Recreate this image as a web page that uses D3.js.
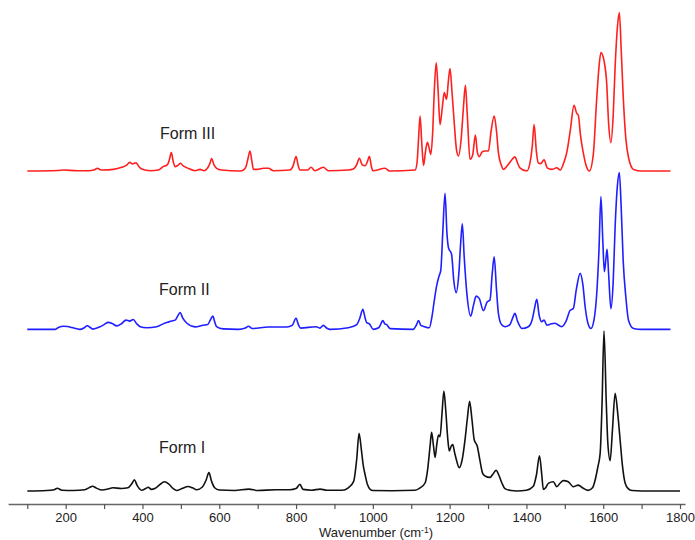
<!DOCTYPE html>
<html>
<head>
<meta charset="utf-8">
<script src="https://cdn.jsdelivr.net/npm/d3@7/dist/d3.min.js"></script>
<style>
  html, body { margin: 0; padding: 0; background: #fff; }
  svg { display: block; }
  text { font-family: "Liberation Sans", Arial, Helvetica, sans-serif; }
</style>
</head>
<body>
<svg id="chart" width="695" height="540"></svg>
<script>
// Raman spectra of three solid forms: [wavenumber (cm-1), relative intensity]
const formI = [
  [100,0],[150,0.3],[170,0.8],[178,1.7],[190,0.5],[220,0.3],[250,0.8],[262,2.2],[270,3],[280,1.8],
  [295,0.6],[310,1.2],[323,2],[345,1.6],[362,2],[372,4.5],[379,7],[386,3.5],[398,0.5],[408,1.5],
  [415,2.3],[423,1],[432,1.5],[445,4],[457,5.8],[468,4.5],[480,1.5],[489,0.3],[503,1.5],[519,2.8],
  [530,2],[541,0.8],[556,2.5],[566,7],[573,11.5],[580,6],[588,2],[600,0.6],[640,0.3],[677,1.2],
  [700,0.3],[747,0.8],[784,0.8],[800,1.5],[810,4.2],[818,1],[840,0.5],[863,1.2],[880,0.5],[920,0.5],
  [936,2],[950,6],[958,20],[964,36],[970,26],[975,16],[980,10],[986,4],[993,1],[1000,0.3],
  [1050,0.2],[1110,0.5],[1123,2],[1136,5],[1143,14],[1149,28],[1153,36.7],[1158,28],[1162,21],[1167,30],
  [1171,35],[1175,34],[1180,48],[1185,62.5],[1190,50],[1195,33],[1199,25],[1204,28],[1208,29],[1213,24],
  [1217,20],[1225,14.6],[1233,20],[1240,32],[1246,45],[1252,56],[1258,45],[1264,32],[1272,28],[1279,19],
  [1286,11],[1292,9.4],[1305,8.5],[1314,11],[1321,13],[1328,10],[1336,5],[1344,1.5],[1360,0.3],[1375,0],
  [1400,0.5],[1418,3],[1426,10],[1434,22],[1440,10],[1444,1],[1450,2],[1457,4.8],[1470,5.8],[1479,2.7],
  [1488,5],[1496,6.5],[1509,5.8],[1522,2.7],[1535,3.7],[1548,1.7],[1561,0.4],[1572,2],[1579,6.9],[1586,15],
  [1592,23.5],[1597,55],[1602,100],[1608,55],[1612,30],[1618,19],[1624,38],[1631,61],[1638,48],[1644,32],
  [1650,16],[1657,5],[1665,1.5],[1675,0.3],[1700,0],[1800,0]
];

const formII = [
  [100,0],[172,0],[181,1.2],[194,2],[205,1.8],[216,1.2],[237,0],[248,1],[256,2.3],[264,1.2],
  [270,0.2],[289,1.6],[300,3],[311,4.4],[322,3.5],[333,2.2],[345,3.5],[357,5.8],[367,5.2],[376,6.2],
  [385,3.5],[394,1.7],[411,1],[437,1.7],[459,4],[476,5.2],[486,6],[492,8.5],[498,10.6],[505,7],
  [515,4],[537,1.6],[558,2.6],[570,3],[577,6],[583,8.3],[589,4],[593,1.7],[610,0.3],[650,0],
  [668,0.8],[676,2],[686,0.6],[728,1.5],[776,1.5],[790,2.5],[800,7],[806,3],[812,0.8],[852,1.7],
  [862,0.8],[871,2.5],[880,0.8],[888,0],[936,1],[958,3],[966,7],[974,12.5],[980,7],[984,4.2],
  [991,3.5],[1001,0],[1015,1],[1021,3.5],[1026,5.6],[1031,3.5],[1036,3],[1045,0.5],[1105,0],[1113,2.5],
  [1119,5.6],[1125,2.5],[1131,2],[1147,1],[1154,8],[1160,18],[1166,27],[1172,33],[1177,37],[1182,60],
  [1188,85],[1193,60],[1197,51],[1205,47],[1211,30],[1217,23],[1224,35],[1229,55],[1233,66],[1238,45],
  [1245,22],[1255,8.3],[1262,15],[1269,20.8],[1277,19.4],[1288,11.7],[1298,17.3],[1305,18.3],[1311,35],[1316,45.4],
  [1322,25],[1327,10],[1335,3],[1344,1.7],[1357,3],[1364,7],[1370,10],[1377,5],[1388,0.6],[1405,1.7],
  [1415,6],[1421,13],[1427,18.8],[1433,9],[1440,4.8],[1446,5.8],[1453,2.7],[1465,3.5],[1474,3.8],[1492,1.7],
  [1503,5],[1514,12],[1522,13],[1530,25],[1540,35],[1547,28],[1553,14],[1560,4],[1568,0.6],[1576,6],
  [1583,22],[1589,50],[1594,83],[1599,55],[1603,36],[1607,44],[1610,50],[1614,35],[1620,13],[1626,30],
  [1631,64],[1637,90],[1642,98],[1647,75],[1652,43],[1659,20],[1666,5.6],[1679,0.6],[1700,0],[1775,0]
];

const formIII = [
  [100,0],[180,0.3],[194,0.6],[230,0.2],[259,0.2],[275,0.8],[283,1.7],[290,0.8],[298,0.6],[324,1],
  [346,2.3],[358,3.5],[367,5.4],[374,4.4],[383,5.2],[390,3],[398,1.2],[420,0.2],[441,0.6],[454,2.7],
  [465,4],[470,7],[475,11.5],[480,6],[485,2.7],[492,3.5],[499,4.8],[507,3],[515,2.1],[537,0.2],
  [550,1],[560,0.2],[570,2],[576,5],[580,7.8],[586,4],[593,1.7],[606,0.6],[654,0],[663,0.6],
  [670,3],[675,8],[680,12.5],[685,6],[689,1],[700,1],[715,1.7],[728,1.7],[741,0.2],[784,0.6],
  [792,3],[800,9],[806,3],[810,0.6],[830,0.6],[839,2.3],[849,0.2],[871,2.3],[884,0.2],[936,0.6],
  [949,1.2],[958,4],[965,8],[972,4],[980,3.3],[986,6],[991,9.2],[996,3],[1000,0.2],[1032,1.7],
  [1043,0],[1110,0.6],[1115,5],[1119,20],[1123,34.4],[1128,15],[1132,3.5],[1137,12],[1142,18],[1147,14],
  [1151,10.4],[1156,25],[1160,50],[1165,67.7],[1170,50],[1175,29],[1181,40],[1186,49],[1192,44.8],[1197,57],
  [1201,64],[1206,50],[1212,30],[1218,13],[1223,9.4],[1230,20],[1236,40],[1241,53.5],[1246,35],[1253,7.3],
  [1260,10],[1267,22.5],[1272,12],[1277,9],[1285,12],[1292,12.5],[1301,12.5],[1308,25],[1316,34.4],[1322,25],
  [1327,11.5],[1334,4],[1340,1],[1353,4.2],[1362,7],[1370,8.8],[1377,5],[1383,2],[1401,0],[1410,6],
  [1415,15],[1420,29],[1426,12],[1431,5],[1437,4.6],[1446,7],[1454,2],[1466,1],[1479,2],[1488,0.6],
  [1497,5],[1505,11.5],[1514,25],[1524,41],[1531,36],[1535,35],[1541,22],[1548,11.5],[1556,3],[1564,0],
  [1574,10],[1583,45],[1589,65],[1594,74],[1602,69],[1609,55],[1614,30],[1620,17.7],[1626,35],[1631,65],
  [1637,90],[1642,99],[1647,75],[1652,47],[1659,20],[1666,8.3],[1679,1],[1700,0],[1775,0]
];

// Stacking order, vertical offsets (intensity units) and colours
const seriesNames = ["Form I", "Form II", "Form III"];
const seriesOffsets = [0, 101, 200];
const seriesColors = ["#111111", "#1f1fff", "#ff1f1f"];
const seriesData = [formI, formII, formIII];

// Axis ticks: every 100 cm-1, labelled every 200 cm-1
const tickValues = d3.range(100, 1801, 100);
const tickLabels = ["200", "400", "600", "800", "1000", "1200", "1400", "1600", "1800"];

const svg = d3.select("#chart");

const x = d3.scaleLinear().domain([50, 1813]).range([8.1, 685]);
const y = d3.scaleLinear().domain([0, 320]).range([491, -21]);

// Spectra
seriesData.forEach((data, i) => {
  const line = d3.line()
    .x(d => x(d[0]))
    .y(d => y(d[1] + seriesOffsets[i]))
    .curve(d3.curveMonotoneX);
  svg.append("path")
    .datum(data)
    .attr("fill", "none")
    .attr("stroke", seriesColors[i])
    .attr("stroke-width", 1.6)
    .attr("stroke-linejoin", "round")
    .attr("d", line);
});

// Series labels
const labelPos = [[159, 452.5], [159, 295], [160, 138.5]];
seriesNames.forEach((name, i) => {
  svg.append("text")
    .attr("x", labelPos[i][0])
    .attr("y", labelPos[i][1])
    .attr("font-size", 16)
    .attr("fill", "#222")
    .text(name);
});

// Bottom axis
const axis = d3.axisBottom(x)
  .tickValues(tickValues)
  .tickSize(5)
  .tickSizeOuter(0)
  .tickPadding(4)
  .tickFormat(d => tickLabels.includes(String(d)) ? String(d) : "");

const gAxis = svg.append("g")
  .attr("transform", "translate(0,504)")
  .call(axis);

gAxis.select(".domain").attr("stroke", "#666").attr("stroke-width", 1.3);
gAxis.selectAll(".tick line").attr("stroke", "#555").attr("stroke-width", 1.2);
gAxis.selectAll(".tick text")
  .attr("font-size", 13)
  .attr("fill", "#222")
  .style("font-family", "'Liberation Sans', Arial, sans-serif");

// Axis title
const title = svg.append("text")
  .attr("x", 376)
  .attr("y", 537)
  .attr("text-anchor", "middle")
  .attr("font-size", 13)
  .attr("fill", "#222");
title.append("tspan").text("Wavenumber (cm");
title.append("tspan").attr("font-size", 8.5).attr("dy", -4).text("-1");
title.append("tspan").attr("dy", 4).text(")");
</script>
</body>
</html>
